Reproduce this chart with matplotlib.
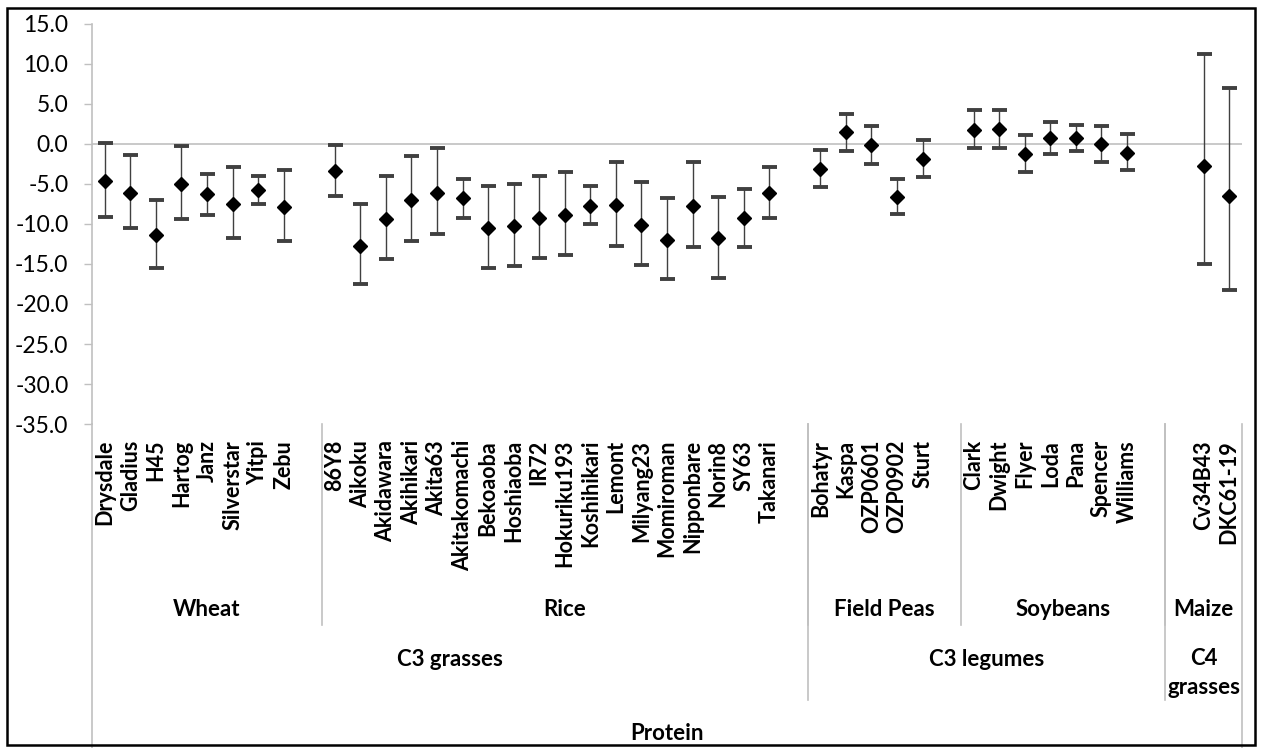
import matplotlib
matplotlib.use("Agg")
import matplotlib.pyplot as plt
from matplotlib.patches import Rectangle
from matplotlib.transforms import blended_transform_factory

plt.rcParams["font.family"] = ["Lato", "DejaVu Sans"]

# ---- data ----
wheat = ["Drysdale", "Gladius", "H45", "Hartog", "Janz", "Silverstar", "Yitpi", "Zebu"]
wheat_mean = [-4.6, -6.1, -11.4, -5.0, -6.3, -7.5, -5.8, -7.9]
wheat_hi = [0.1, -1.4, -7.0, -0.2, -3.7, -2.9, -4.0, -3.25]
wheat_lo = [-9.1, -10.5, -15.5, -9.4, -8.9, -11.8, -7.5, -12.1]

rice = ["86Y8", "Aikoku", "Akidawara", "Akihikari", "Akita63", "Akitakomachi",
        "Bekoaoba", "Hoshiaoba", "IR72", "Hokuriku193", "Koshihikari", "Lemont",
        "Milyang23", "Momiroman", "Nipponbare", "Norin8", "SY63", "Takanari"]
rice_mean = [-3.4, -12.7, -9.4, -7.0, -6.1, -6.8, -10.5, -10.3, -9.3, -8.9,
             -7.7, -7.6, -10.1, -12.0, -7.8, -11.7, -9.3, -6.1]
rice_hi = [-0.1, -7.5, -4.0, -1.5, -0.5, -4.4, -5.2, -5.0, -4.0, -3.5,
           -5.3, -2.2, -4.75, -6.8, -2.3, -6.6, -5.6, -2.9]
rice_lo = [-6.5, -17.5, -14.4, -12.1, -11.3, -9.2, -15.5, -15.25, -14.3, -13.9,
           -10.0, -12.75, -15.1, -16.9, -12.9, -16.7, -12.9, -9.2]

peas = ["Bohatyr", "Kaspa", "OZP0601", "OZP0902", "Sturt"]
peas_mean = [-3.1, 1.5, -0.1, -6.6, -1.9]
peas_hi = [-0.8, 3.8, 2.2, -4.4, 0.45]
peas_lo = [-5.4, -0.9, -2.5, -8.75, -4.1]

soy = ["Clark", "Dwight", "Flyer", "Loda", "Pana", "Spencer", "Williams"]
soy_mean = [1.8, 1.9, -1.2, 0.8, 0.7, 0.0, -1.1]
soy_hi = [4.2, 4.2, 1.1, 2.8, 2.4, 2.3, 1.25]
soy_lo = [-0.5, -0.45, -3.5, -1.2, -0.9, -2.3, -3.3]

maize = ["Cv34B43", "DKC61-19"]
maize_mean = [-2.8, -6.5]
maize_hi = [11.2, 7.0]
maize_lo = [-15.0, -18.25]

crops = ["Wheat", "Rice", "Field Peas", "Soybeans", "Maize"]
crop_type = ["C3 grasses", "C3 grasses", "C3 legumes", "C3 legumes", "C4\ngrasses"]
top_label = "Protein"
# empty category slots in the Excel sheet around each crop
lead_blanks = [0, 0, 0, 0, 1]
trail_blanks = [1, 1, 1, 1, 0]

groups = [(wheat, wheat_mean, wheat_hi, wheat_lo),
          (rice, rice_mean, rice_hi, rice_lo),
          (peas, peas_mean, peas_hi, peas_lo),
          (soy, soy_mean, soy_hi, soy_lo),
          (maize, maize_mean, maize_hi, maize_lo)]

# ---- build category slots ----
labels, xs, ys, err_lo, err_hi = [], [], [], [], []
spans = []  # (start, end) slot index of each crop, end exclusive
pos = 0
for (names, mean, hi, lo), lb, tb in zip(groups, lead_blanks, trail_blanks):
    start = pos
    labels += [""] * lb
    pos += lb
    for n, m, h, l in zip(names, mean, hi, lo):
        labels.append(n)
        xs.append(pos)
        ys.append(m)
        err_lo.append(m - l)
        err_hi.append(h - m)
        pos += 1
    labels += [""] * tb
    pos += tb
    spans.append((start, pos))
nslots = pos

W, H = 1265, 748
fig = plt.figure(figsize=(W / 100, H / 100), dpi=100)
ax_l, ax_r, ax_t, ax_b = 92, 1242, 24, 424
ax = fig.add_axes([ax_l / W, 1 - ax_b / H, (ax_r - ax_l) / W, (ax_b - ax_t) / H])

ax.axhline(0, color="#c0c0c0", lw=1.2, zorder=1)
line, caps, bars = ax.errorbar(xs, ys, yerr=[err_lo, err_hi], fmt="D", color="black",
                               markersize=7.5, ecolor="#404040", elinewidth=1.0,
                               capsize=5.4, capthick=2.8, zorder=3)
for c in caps:
    c.set_color("black")

ax.set_xlim(-0.5, nslots - 0.5)
ax.set_ylim(-35, 15)
ax.set_yticks(range(-35, 16, 5))
ax.set_yticklabels([f"{v:.1f}" for v in range(-35, 16, 5)], fontsize=16.5)
ax.tick_params(axis="y", length=6, width=1, color="#c0c0c0", pad=11)

ax.set_xticks(range(nslots))
ax.set_xticklabels(labels, rotation=90, fontsize=15.5, fontweight="bold")
ax.tick_params(axis="x", length=0, pad=11.5)

for s in ["top", "right", "bottom"]:
    ax.spines[s].set_visible(False)
ax.spines["left"].set_color("#c0c0c0")
ax.spines["left"].set_linewidth(1.2)

# ---- multi-level category axis ----
tr = blended_transform_factory(ax.transData, fig.transFigure)
def fy(px):
    return 1 - px / H

def vline(x, y0, y1):
    ax.plot([x, x], [fy(y0), fy(y1)], transform=tr, color="#c0c0c0", lw=1.2,
            clip_on=False, zorder=0)

# crop level
for (s, e), name in zip(spans, crops):
    ax.text((s + e - 1) / 2, fy(609), name, transform=tr, ha="center", va="center",
            fontsize=16, fontweight="bold")
for s, e in spans[:-1]:
    vline(e - 0.5, ax_b, 625)

# plant type level
type_names = []
type_spans = []
for (s, e), t in zip(spans, crop_type):
    if type_names and type_names[-1] == t:
        type_spans[-1] = (type_spans[-1][0], e)
    else:
        type_names.append(t)
        type_spans.append((s, e))
for (s, e), t in zip(type_spans, type_names):
    yc = 659 if "\n" not in t else 673
    ax.text((s + e - 1) / 2, fy(yc), t, transform=tr, ha="center", va="center",
            fontsize=16, fontweight="bold", linespacing=1.5)
for s, e in type_spans[:-1]:
    vline(e - 0.5, ax_b, 700)

# top level
ax.text((nslots - 1) / 2, fy(733), top_label, transform=tr, ha="center", va="center",
        fontsize=16, fontweight="bold")
vline(-0.5, ax_b, H)
vline(nslots - 0.5, ax_b, H)

# outer chart border
fig.patches.append(Rectangle((7 / W, 3 / H), (1255 - 7) / W, (745 - 8) / H,
                             transform=fig.transFigure, fill=False,
                             edgecolor="black", linewidth=1.8))

fig.savefig("out.png", dpi=100)
